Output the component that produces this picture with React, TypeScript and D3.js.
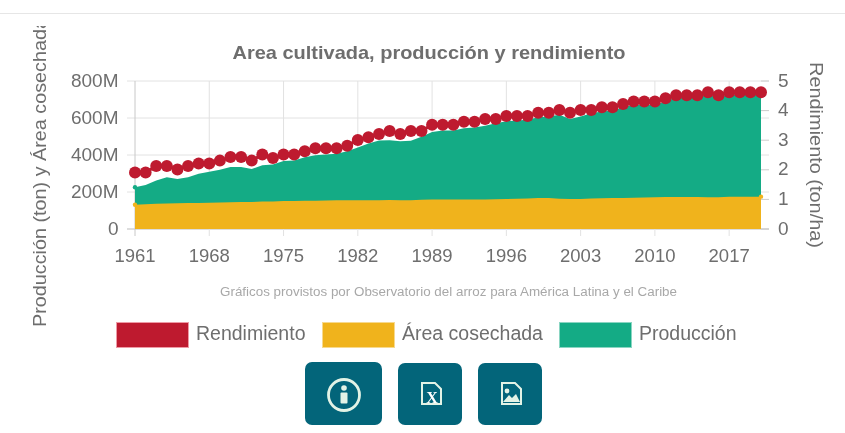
import React from "react";
import * as d3 from "d3";

const years = d3.range(1961, 2021);
const tickYears = [1961, 1968, 1975, 1982, 1989, 1996, 2003, 2010, 2017];
const leftTicks = [0, 200, 400, 600, 800];
const rightTicks = [0, 1, 2, 3, 4, 5];

const rendimiento = [1.91,1.91,2.13,2.13,2.01,2.13,2.21,2.21,2.31,2.43,2.43,2.31,2.52,2.40,2.52,2.52,2.63,2.73,2.73,2.73,2.81,3.01,3.10,3.21,3.31,3.21,3.31,3.31,3.52,3.52,3.52,3.62,3.62,3.72,3.72,3.82,3.82,3.82,3.93,3.93,4.02,3.93,4.02,4.02,4.11,4.11,4.22,4.31,4.31,4.31,4.42,4.52,4.52,4.52,4.62,4.52,4.62,4.62,4.62,4.62];
const produccion = [226,238,262,280,270,280,298,309,320,335,335,324,345,349,367,370,388,399,403,407,420,441,462,478,480,475,477,498,524,532,532,545,549,558,572,583,586,590,604,608,617,594,608,626,635,640,658,671,671,671,689,712,712,716,725,712,725,725,725,725];
const area = [131,134,136,138,139,140,141,142,143,145,146,146,148,148,151,151,153,153,154,155,155,156,156,156,157,156,156,158,160,160,160,160,160,160,161,162,163,165,167,167,164,162,162,165,166,167,167,169,170,171,173,173,173,173,172,172,174,175,175,175];

const legendItems = [
  { label: "Rendimiento", color: "#be1a2f", border: "#ee9aa5", x: 116, w: 72 },
  { label: "Área cosechada", color: "#f0b31c", border: "#f7d98e", x: 322, w: 72 },
  { label: "Producción", color: "#14ab85", border: "#8ad5c2", x: 559, w: 72 },
];

const FONT = "'Liberation Sans', Arial, sans-serif";
const TXT = "#6e6e6e";

export default function App() {
  const x = d3.scalePoint<number>().domain(years).range([135, 761]);
  const yL = d3.scaleLinear().domain([0, 800]).range([229, 81]);
  const yR = d3.scaleLinear().domain([0, 5]).range([229, 81]);
  const areaGen = (vals: number[]) =>
    d3.area<number>().x((_, i) => x(years[i])!).y0(yL(0)).y1((d) => yL(d))(vals)!;
  const line = d3.line<number>().x((_, i) => x(years[i])!).y((d) => yR(d))(rendimiento)!;
  const teal = "#03657a";
  const ice = "#e3f3e6";
  const last = years.length - 1;
  return (
    <svg width={845} height={433} style={{ position: "absolute", left: 0, top: 0, fontFamily: FONT, filter: "blur(0.45px)" }}>
      <defs>
        <clipPath id="leftTitle"><rect x={0} y={26} width={80} height={320} /></clipPath>
      </defs>
      <rect width={845} height={433} fill="#fff" />
      <line x1={0} x2={845} y1={13.5} y2={13.5} stroke="#e6e6e6" strokeWidth={1} />
      <text x={429} y={58.5} textAnchor="middle" fontSize={19} fontWeight="bold" fill={TXT} textLength={393} lengthAdjust="spacingAndGlyphs">Area cultivada, producción y rendimiento</text>

      {leftTicks.map((t) => (
        <g key={t}>
          <line x1={127} x2={769} y1={yL(t)} y2={yL(t)} stroke={t === 0 ? "#bbb" : "#e2e2e2"} />
          <text x={118.5} y={yL(t) - 1} dy="0.35em" textAnchor="end" fontSize={19} fill={TXT}>{t === 0 ? "0" : `${t}M`}</text>
        </g>
      ))}
      {tickYears.map((t) => (
        <g key={t}>
          <line x1={x(t)} x2={x(t)} y1={81} y2={236} stroke={t === 1961 ? "#c8c8c8" : "#e2e2e2"} />
          <text x={x(t)} y={256} dy="0.35em" textAnchor="middle" fontSize={18.5} fill={TXT}>{t}</text>
        </g>
      ))}
      {rightTicks.map((t) => (
        <g key={t}>
          <line x1={761} x2={769} y1={yR(t)} y2={yR(t)} stroke="#ccc" />
          <text x={778} y={yR(t) - 1} dy="0.35em" fontSize={19} fill={TXT}>{t}</text>
        </g>
      ))}

      <path d={areaGen(produccion)} fill="#14ab85" />
      {[0, last].map((i) => (
        <circle key={i} cx={x(years[i])} cy={yL(produccion[i])} r={2.2} fill="#14ab85" />
      ))}
      <path d={areaGen(area)} fill="#f0b31c" />
      {[0, last].map((i) => (
        <circle key={i} cx={x(years[i])} cy={yL(area[i])} r={2.2} fill="#f0b31c" />
      ))}
      <path d={line} fill="none" stroke="#be1a2f" strokeWidth={3} />
      {rendimiento.map((v, i) => (
        <circle key={i} cx={x(years[i])} cy={yR(v)} r={6} fill="#be1a2f" />
      ))}

      <g clipPath="url(#leftTitle)">
        <text transform="translate(46,327) rotate(-90)" fontSize={19} fill={TXT} textLength={309} lengthAdjust="spacingAndGlyphs">Producción (ton) y Área cosechada</text>
      </g>
      <text transform="translate(810,62) rotate(90)" fontSize={19} fill={TXT} textLength={186} lengthAdjust="spacingAndGlyphs">Rendimiento (ton/ha)</text>

      <text x={448.5} y={292} dy="0.35em" textAnchor="middle" fontSize={12.5} fill="#a8a8a8" textLength={457} lengthAdjust="spacingAndGlyphs">Gráficos provistos por Observatorio del arroz para América Latina y el Caribe</text>

      {legendItems.map((l) => (
        <g key={l.label}>
          <rect x={l.x + 0.5} y={322.5} width={l.w} height={25} fill={l.color} stroke={l.border} />
          <text x={l.x + l.w + 8} y={333.5} dy="0.35em" fontSize={19.5} fill={TXT}>{l.label}</text>
        </g>
      ))}

      <rect x={305} y={362} width={77} height={63} rx={7} fill={teal} />
      <circle cx={344} cy={395} r={15.5} fill="none" stroke={ice} strokeWidth={2.8} />
      <circle cx={344} cy={388} r={2.8} fill={ice} />
      <rect x={340.5} y={392.5} width={7} height={11} rx={1} fill={ice} />

      <rect x={398} y={363} width={64} height={62} rx={7} fill={teal} />
      <path d="M422 383h13l6 6v15h-19z" fill="none" stroke={ice} strokeWidth={2} />
      <text x={432} y={403} textAnchor="middle" fontSize={16} fontWeight="bold" fontFamily="'Liberation Serif', serif" fill="#fff">X</text>

      <rect x={478} y={363} width={64} height={62} rx={7} fill={teal} />
      <path d="M502 383h13l6 6v15h-19z" fill="none" stroke={ice} strokeWidth={2} />
      <circle cx={507} cy={391} r={2.4} fill={ice} />
      <path d="M503 402l6-7 3 3 4-4 4 8z" fill={ice} />
    </svg>
  );
}
